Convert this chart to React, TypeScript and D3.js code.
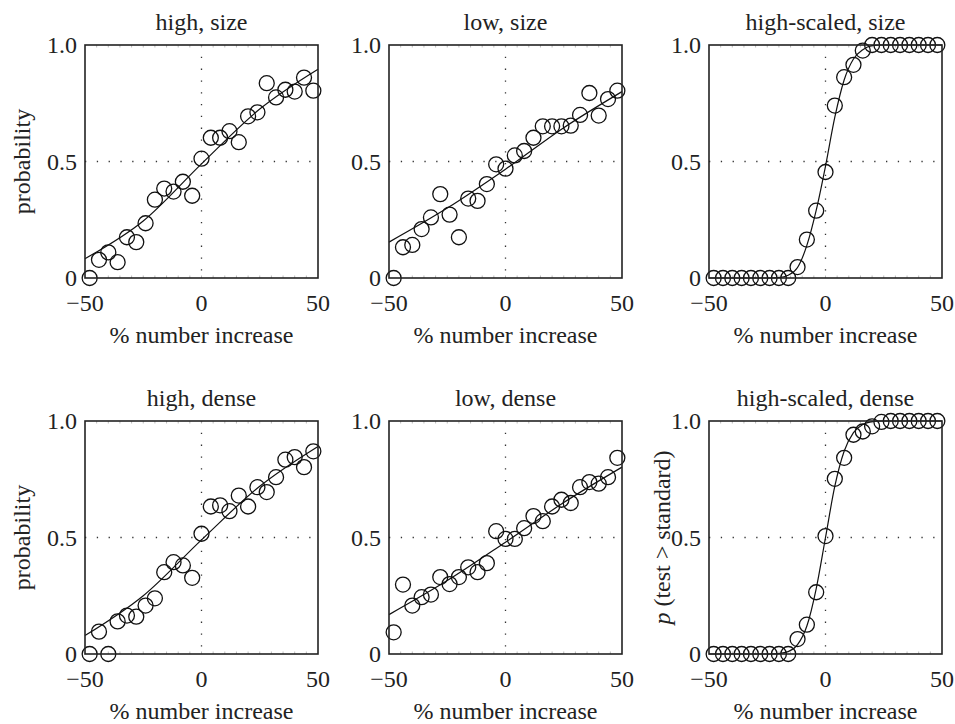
import React from "react";
import * as d3 from "d3";

const xs = [-48, -44, -40, -36, -32, -28, -24, -20, -16, -12, -8, -4, 0, 4, 8, 12, 16, 20, 24, 28, 32, 36, 40, 44, 48];

const highSize = [0, 0.078, 0.11, 0.068, 0.175, 0.154, 0.235, 0.336, 0.384, 0.371, 0.413, 0.353, 0.512, 0.602, 0.602, 0.63, 0.583, 0.694, 0.711, 0.836, 0.775, 0.808, 0.80, 0.86, 0.804];
const lowSize = [0, 0.132, 0.142, 0.21, 0.26, 0.36, 0.272, 0.175, 0.341, 0.331, 0.403, 0.488, 0.469, 0.526, 0.545, 0.602, 0.651, 0.651, 0.651, 0.654, 0.70, 0.794, 0.697, 0.768, 0.804];
const scaledSize = [0, 0, 0, 0, 0, 0, 0, 0, 0, 0.047, 0.165, 0.289, 0.455, 0.74, 0.862, 0.915, 0.976, 1, 1, 1, 1, 1, 1, 1, 1];
const highDense = [0, 0.096, 0, 0.14, 0.165, 0.16, 0.208, 0.239, 0.351, 0.394, 0.38, 0.327, 0.516, 0.633, 0.638, 0.613, 0.68, 0.633, 0.716, 0.695, 0.759, 0.834, 0.845, 0.802, 0.87];
const lowDense = [0.093, 0.298, 0.208, 0.244, 0.255, 0.33, 0.30, 0.33, 0.372, 0.351, 0.39, 0.527, 0.494, 0.494, 0.54, 0.592, 0.57, 0.633, 0.662, 0.648, 0.716, 0.738, 0.731, 0.759, 0.842];
const scaledDense = [0, 0, 0, 0, 0, 0, 0, 0, 0, 0.064, 0.126, 0.265, 0.506, 0.752, 0.842, 0.941, 0.955, 0.977, 0.996, 1, 1, 1, 1, 1, 1];

// fitted curves
const fitXLinear = [-50, -25, 0, 25, 50];
const fitHighSize = [0.083, 0.245, 0.49, 0.725, 0.896];
const fitLowSize = [0.154, 0.3, 0.467, 0.645, 0.8];
const fitHighDense = [0.079, 0.25, 0.49, 0.72, 0.891];
const fitLowDense = [0.169, 0.315, 0.48, 0.65, 0.802];
const fitXScaled = [-50, -24, -20, -16, -12, -8, -4, 0, 4, 8, 12, 16, 20, 24, 50];
const fitScaledSize = [0, 0, 0.002, 0.012, 0.045, 0.14, 0.29, 0.48, 0.69, 0.85, 0.94, 0.98, 0.997, 1, 1];
const fitScaledDense = [0, 0, 0.002, 0.01, 0.04, 0.12, 0.28, 0.5, 0.72, 0.87, 0.95, 0.985, 0.997, 1, 1];

const titles = ["high, size", "low, size", "high-scaled, size", "high, dense", "low, dense", "high-scaled, dense"];
const xTicks = [-50, 0, 50];
const yTicks = [0, 0.5, 1];
const yTickLabels = ["0", "0.5", "1.0"];
const xLabel = "% number increase";

const panels = [
  { title: titles[0], data: highSize, fx: fitXLinear, fy: fitHighSize },
  { title: titles[1], data: lowSize, fx: fitXLinear, fy: fitLowSize },
  { title: titles[2], data: scaledSize, fx: fitXScaled, fy: fitScaledSize },
  { title: titles[3], data: highDense, fx: fitXLinear, fy: fitHighDense },
  { title: titles[4], data: lowDense, fx: fitXLinear, fy: fitLowDense },
  { title: titles[5], data: scaledDense, fx: fitXScaled, fy: fitScaledDense },
];

const colLeft = [85, 389, 709];
const rowTop = [45, 421];
const PW = 233;
const PH = 233;
const txt: React.CSSProperties = { fontFamily: "Liberation Serif, Times New Roman, DejaVu Serif, serif", fontSize: "24px", fill: "#222" };

function Panel({ p, col, row }: any) {
  const left = colLeft[col];
  const top = rowTop[row];
  const x = d3.scaleLinear().domain([-50, 50]).range([0, PW]);
  const y = d3.scaleLinear().domain([0, 1]).range([PH, 0]);
  const line = d3
    .line<number>()
    .x((_, i) => x(p.fx[i]))
    .y((d) => y(d))
    .curve(d3.curveMonotoneX);
  const minor = d3.range(-45, 50, 5);
  return (
    <g transform={`translate(${left},${top})`}>
      <text x={PW / 2} y={-15} textAnchor="middle" style={txt}>
        {p.title}
      </text>
      <line x1={x(0)} x2={x(0)} y1={0} y2={PH} stroke="#333" strokeWidth={1.3} strokeDasharray="1.3 10.5" />
      <line x1={0} x2={PW} y1={y(0.5)} y2={y(0.5)} stroke="#333" strokeWidth={1.3} strokeDasharray="1.3 10.5" />
      {minor.map((m) => (
        <g key={m}>
          <line x1={x(m)} x2={x(m)} y1={0} y2={2.5} stroke="#aaa" strokeWidth={0.8} />
          <line x1={x(m)} x2={x(m)} y1={PH} y2={PH - 2.5} stroke="#aaa" strokeWidth={0.8} />
        </g>
      ))}
      <path d={line(p.fy) || ""} fill="none" stroke="#111" strokeWidth={1.2} />
      {p.data.map((v: number, i: number) => (
        <circle key={i} cx={x(xs[i])} cy={y(v)} r={7.5} fill="none" stroke="#111" strokeWidth={1.3} />
      ))}
      <rect x={0} y={0} width={PW} height={PH} fill="none" stroke="#222" strokeWidth={1.6} />
      {yTicks.map((t, i) => (
        <text key={t} x={-8} y={y(t)} dy="0.35em" textAnchor="end" style={txt}>
          {yTickLabels[i]}
        </text>
      ))}
      {xTicks.map((t) => (
        <text key={t} x={x(t)} y={PH + 33} textAnchor="middle" style={txt}>
          {t < 0 ? "\u2212" + Math.abs(t) : String(t)}
        </text>
      ))}
      <text x={PW / 2} y={PH + 65} textAnchor="middle" style={txt}>
        {xLabel}
      </text>
    </g>
  );
}

export default function App() {
  return (
    <svg width={955} height={724} style={{ position: "absolute", left: 0, top: 0, background: "#fff" }}>
      <rect width={955} height={724} fill="#fff" />
      {panels.map((p, i) => (
        <Panel key={i} p={p} col={i % 3} row={Math.floor(i / 3)} />
      ))}
      <text transform={`translate(30,${rowTop[0] + PH / 2}) rotate(-90)`} textAnchor="middle" style={txt}>
        probability
      </text>
      <text transform={`translate(30,${rowTop[1] + PH / 2}) rotate(-90)`} textAnchor="middle" style={txt}>
        probability
      </text>
      <text transform={`translate(670,${rowTop[1] + PH / 2}) rotate(-90)`} textAnchor="middle" style={txt}>
        <tspan style={{ fontStyle: "italic" }}>p</tspan> (test &gt; standard)
      </text>
    </svg>
  );
}
